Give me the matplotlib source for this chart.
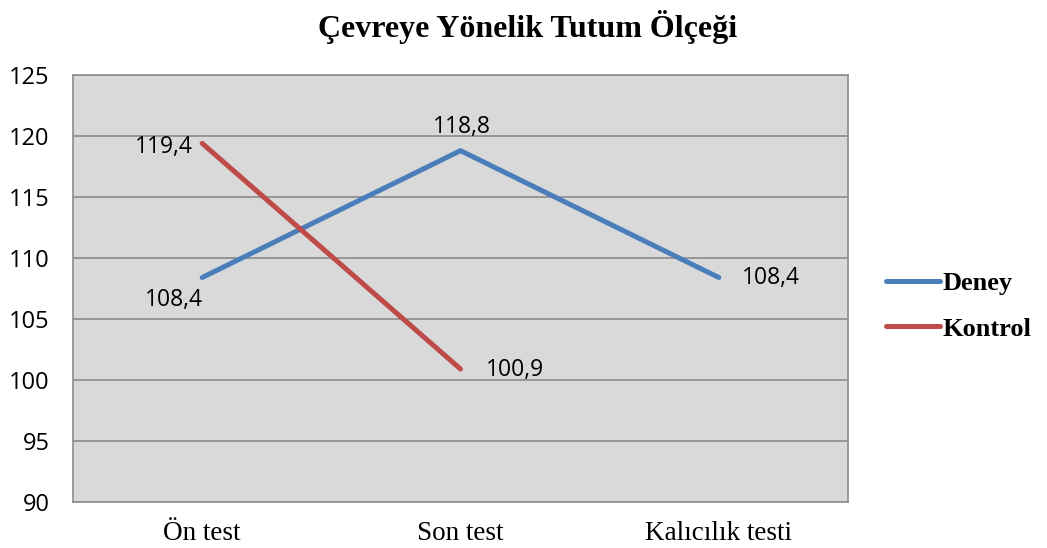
import matplotlib
matplotlib.use("Agg")
import matplotlib.pyplot as plt
from matplotlib.lines import Line2D

title = "Çevreye Yönelik Tutum Ölçeği"
categories = ["Ön test", "Son test", "Kalıcılık testi"]
deney = [108.4, 118.8, 108.4]
kontrol = [119.4, 100.9]
yticks = [90, 95, 100, 105, 110, 115, 120, 125]

blue = "#4A7EBB"
red = "#BE4B48"
grid_c = "#8C8C8C"

fig = plt.figure(figsize=(10.47, 5.48), dpi=100)
ax = fig.add_axes([73/1047, 1-502/548, (848-73)/1047, (502-75)/548])
ax.set_facecolor("#D9D9D9")

x = list(range(len(categories)))
ax.plot(x, deney, color=blue, lw=3.6, solid_capstyle="round", zorder=3)
ax.plot(x[:len(kontrol)], kontrol, color=red, lw=3.6, solid_capstyle="round", zorder=3)

ax.set_xlim(-0.5, len(categories) - 0.5)
ax.set_ylim(90, 125)
ax.set_yticks(yticks)
ax.set_yticklabels([str(v) for v in yticks], fontfamily="Open Sans", fontsize=17)
ax.set_xticks(x)
ax.set_xticklabels(categories, fontfamily="Liberation Serif", fontsize=19.5)
ax.tick_params(axis="both", length=0)
ax.tick_params(axis="y", pad=17)
ax.tick_params(axis="x", pad=14)
ax.grid(axis="y", color=grid_c, lw=1.2, zorder=1)
ax.set_axisbelow(True)
for s in ax.spines.values():
    s.set_color(grid_c)
    s.set_linewidth(1.2)

lab = dict(fontfamily="Open Sans", fontsize=16.5, color="black", zorder=4)
fmt = lambda v: f"{v:.1f}".replace(".", ",")
# Deney labels
ax.annotate(fmt(deney[0]), (x[0], deney[0]), xytext=(-28, -22), textcoords="offset pixels", ha="center", va="center", **lab)
ax.annotate(fmt(deney[1]), (x[1], deney[1]), xytext=(1, 24), textcoords="offset pixels", ha="center", va="center", **lab)
ax.annotate(fmt(deney[2]), (x[2], deney[2]), xytext=(52, 0), textcoords="offset pixels", ha="center", va="center", **lab)
# Kontrol labels
ax.annotate(fmt(kontrol[0]), (x[0], kontrol[0]), xytext=(-38, -4), textcoords="offset pixels", ha="center", va="center", **lab)
ax.annotate(fmt(kontrol[1]), (x[1], kontrol[1]), xytext=(54, -1), textcoords="offset pixels", ha="center", va="center", **lab)

fig.text(528/1047, 1-27/548, title, ha="center", va="center",
         fontfamily="Liberation Serif", fontweight="bold", fontsize=23)

handles = [Line2D([0], [0], color=blue, lw=3.6, solid_capstyle="round"),
           Line2D([0], [0], color=red, lw=3.6, solid_capstyle="round")]
leg = fig.legend(handles, ["Deney", "Kontrol"], loc="center left",
                 bbox_to_anchor=(886/1047, 1-306/548), frameon=False,
                 handlelength=2.05, handletextpad=0.1, labelspacing=0.85,
                 borderaxespad=0, borderpad=0,
                 prop=dict(family="Liberation Serif", weight="bold", size=19))

fig.savefig("out.png", dpi=100)
